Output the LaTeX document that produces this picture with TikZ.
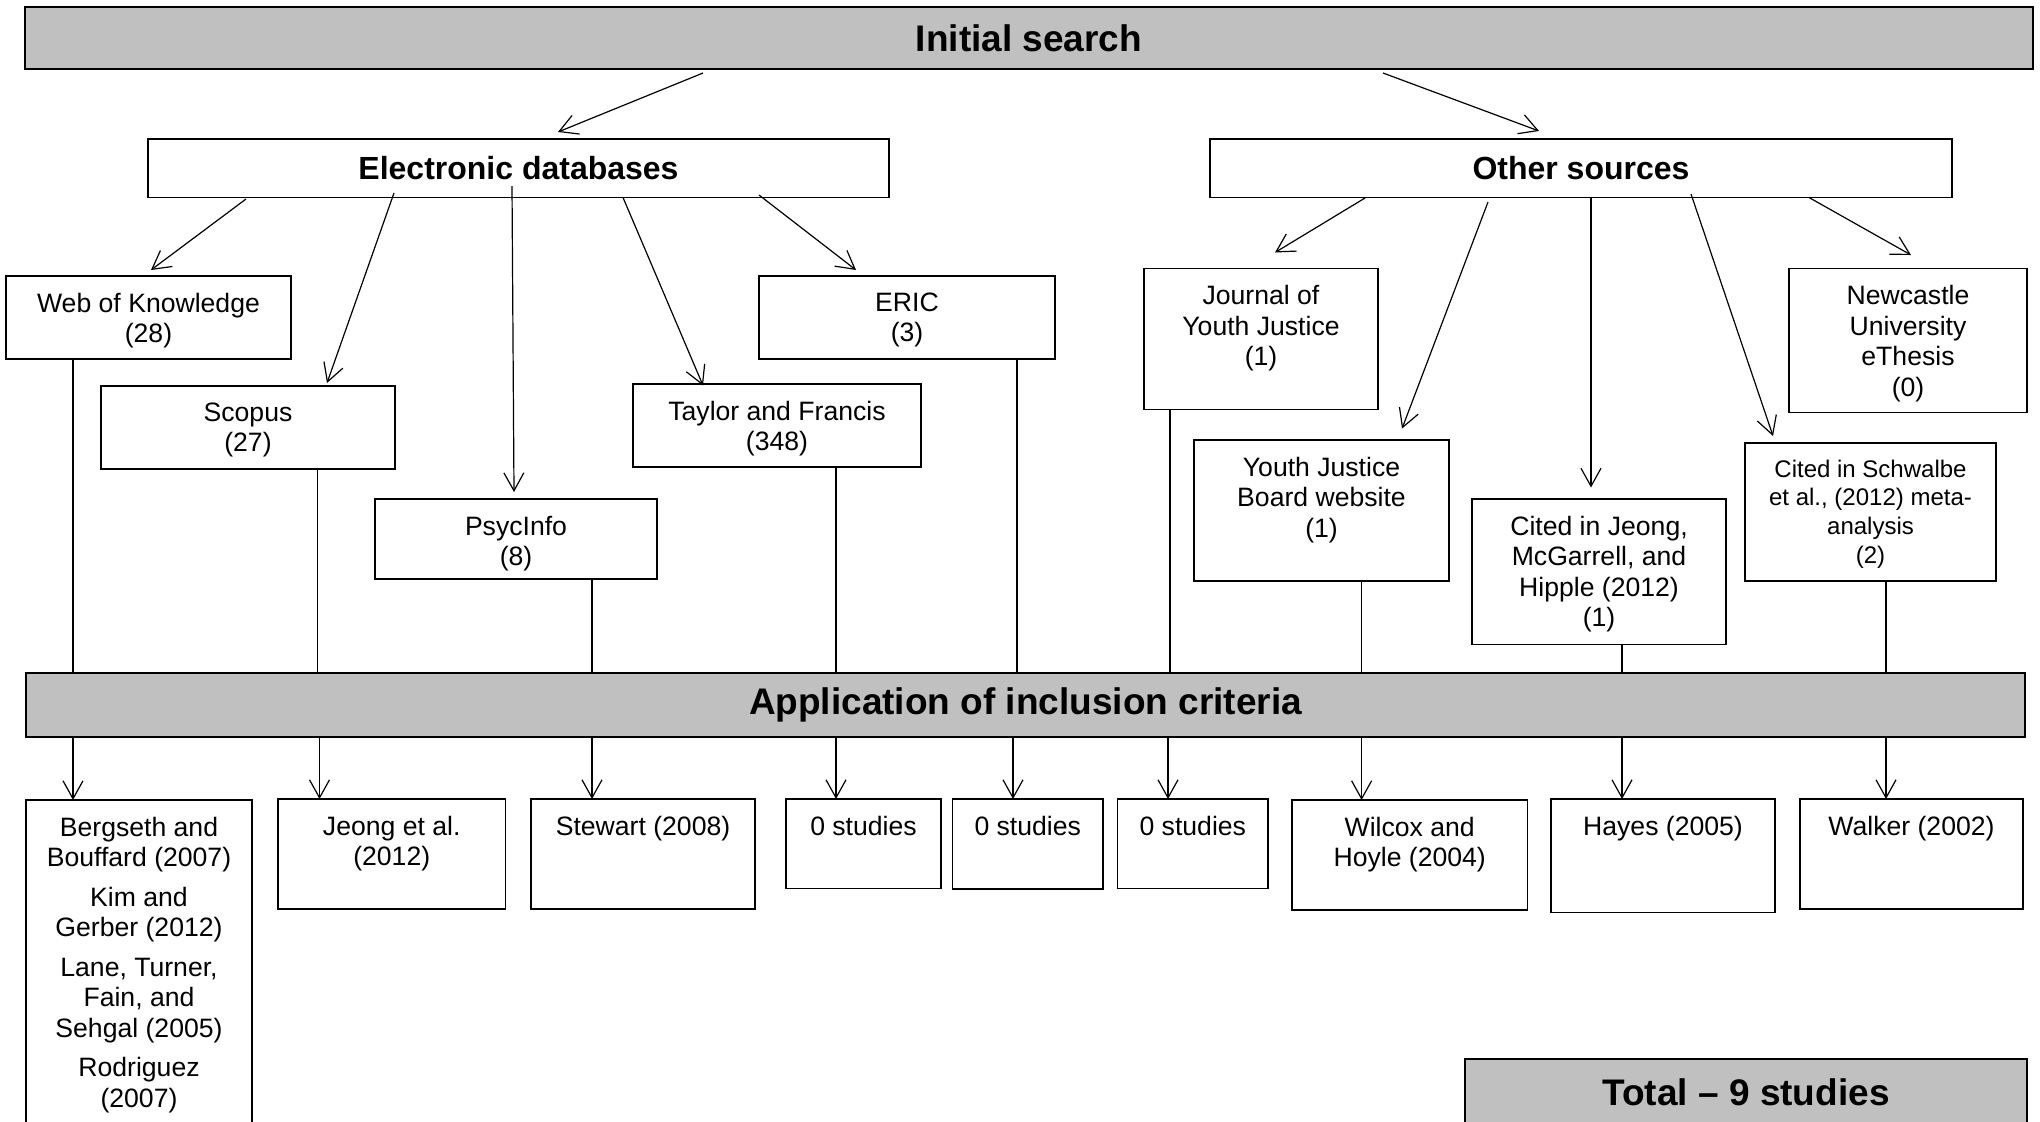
\documentclass[tikz,border=0pt]{standalone}
\usepackage{fontspec}
\setmainfont{Liberation Sans}
\usetikzlibrary{arrows.meta,calc}
\definecolor{hdrgray}{HTML}{C0C0C0}
\tikzset{
  box/.style={draw=black, line width=0.75pt, rectangle, inner sep=0pt, outer sep=0pt, fill=white},
  graybox/.style={draw=black, line width=0.95pt, rectangle, fill=hdrgray, inner sep=0pt, outer sep=0pt},
  txt/.style={align=center, inner sep=0pt, font=\fontsize{13.3}{15.25}\selectfont},
  smalltxt/.style={align=center, inner sep=0pt, font=\fontsize{12}{14.3}\selectfont},
  head/.style={font=\bfseries\fontsize{16}{19}\selectfont},
  bighead/.style={font=\bfseries\fontsize{18.5}{22}\selectfont},
  arr/.style={line width=0.6pt, -{Straight Barb[length=9pt,width=10pt]}},
  conn/.style={line width=0.6pt},
}
% box with text hung from the top: [text style]{name}{x1}{y1}{x2}{y2}{text}
\newcommand\bx[7][txt]{%
  \pgfmathsetmacro\bxw{(#5-#3)*0.5}%
  \pgfmathsetmacro\bxh{(#6-#4)*0.5}%
  \node[box,minimum width=\bxw pt,minimum height=\bxh pt,anchor=north west] (#2) at (#3,#4) {};%
  \node[#1,anchor=north] (#2-t) at ([yshift=-8.2pt]#2.north) {#7};%
}
% box with centred text: [style]{name}{x1}{y1}{x2}{y2}{text}
\newcommand\cbx[7][box,head]{%
  \pgfmathsetmacro\bxw{(#5-#3)*0.5}%
  \pgfmathsetmacro\bxh{(#6-#4)*0.5}%
  \node[#1,minimum width=\bxw pt,minimum height=\bxh pt,anchor=north west] (#2) at (#3,#4) {};%
  \node[#1,draw=none,fill=none,anchor=center] (#2-t) at (#2.center) {#7};%
}
\begin{document}
\begin{tikzpicture}[x=0.5pt,y=-0.5pt]
\useasboundingbox (0,0) rectangle (2040,1121);
\fill[white] (0,0) rectangle (2040,1121);

% headings
\cbx[graybox,bighead]{init}{25}{7}{2033}{68.6}{Initial search}
\cbx[box,head]{ed}{148}{139}{889}{197.5}{Electronic databases}
\cbx[box,head]{os}{1210}{139}{1952}{197.5}{Other sources}
\cbx[graybox,bighead]{app}{26}{673}{2025}{737}{Application of inclusion criteria}
\cbx[graybox,bighead]{tot}{1465}{1059}{2027}{1125}{Total – 9 studies}

% sources
\bx{web}{6}{276}{291}{359}{Web of Knowledge\\(28)}
\bx{scop}{101}{386}{395}{469}{Scopus\\(27)}
\bx{psyc}{375}{499}{657}{579}{PsycInfo\\(8)}
\bx{tf}{633}{384}{921}{467}{Taylor and Francis\\(348)}
\bx{eric}{759}{276}{1055}{359}{ERIC\\(3)}
\bx{jyj}{1144}{268.6}{1378}{409.6}{Journal of\\Youth Justice\\(1)}
\bx{newc}{1789}{268.6}{2027}{412.5}{Newcastle\\University\\eThesis\\(0)}
\bx{yjb}{1194}{440}{1449}{581}{Youth Justice\\Board website\\(1)}
\bx{cj}{1472}{499}{1726}{644.6}{Cited in Jeong,\\McGarrell, and\\Hipple (2012)\\(1)}
\bx[smalltxt]{schw}{1745}{443}{1996}{581}{Cited in Schwalbe\\et al., (2012) meta-\\analysis\\(2)}

% results
\bx{r1}{26}{800}{252}{1135}{Bergseth and\\Bouffard (2007)\\[4.5pt]Kim and\\Gerber (2012)\\[4.5pt]Lane, Turner,\\Fain, and\\Sehgal (2005)\\[4.5pt]Rodriguez\\(2007)}
\bx{r2}{278}{799}{505.5}{909}{Jeong et al.\\(2012)}
\bx{r3}{531}{799}{755}{909}{Stewart (2008)}
\bx{r4}{786}{799}{941}{888.6}{0 studies}
\bx{r5}{952.5}{799}{1103}{889}{0 studies}
\bx{r6}{1117.6}{799}{1268}{888.6}{0 studies}
\bx{r7}{1292}{800}{1527.5}{910}{Wilcox and\\Hoyle (2004)}
\bx{r8}{1551}{799}{1775}{912.5}{Hayes (2005)}
\bx{r9}{1800}{799}{2023}{909}{Walker (2002)}

% arrows from initial search
\coordinate (i1s) at (703,73);   \coordinate (i1e) at (558,132);
\coordinate (i2s) at (1383,73);  \coordinate (i2e) at (1539,131);
\draw[arr] (i1s) -- (i1e);
\draw[arr] (i2s) -- (i2e);

% arrows from electronic databases
\coordinate (e1s) at (246,199);   \coordinate (e1e) at (151,270);
\coordinate (e2s) at (394,193);   \coordinate (e2e) at (327,383);
\coordinate (e3s) at (512,186);   \coordinate (e3e) at (514,492);
\coordinate (e4s) at (623,197.5); \coordinate (e4e) at (703,385.5);
\coordinate (e5s) at (759,195);   \coordinate (e5e) at (856,270);
\foreach \i in {1,...,5}{\draw[arr] (e\i s) -- (e\i e);}

% arrows from other sources
\coordinate (o1s) at (1365,198);   \coordinate (o1e) at (1275,252.5);
\coordinate (o2s) at (1488,202);   \coordinate (o2e) at (1402,428.6);
\coordinate (o3s) at (1591,198);   \coordinate (o3e) at (1591,487.5);
\coordinate (o4s) at (1691,194);   \coordinate (o4e) at (1773,436);
\coordinate (o5s) at (1809,197.5); \coordinate (o5e) at (1911,255);
\foreach \i in {1,...,5}{\draw[arr] (o\i s) -- (o\i e);}

% columns down through the inclusion criteria
\coordinate (ka1) at (73,0);     \coordinate (kb1) at (73,0);
\coordinate (ka2) at (317.5,0);  \coordinate (kb2) at (319.5,0);
\coordinate (ka3) at (592,0);    \coordinate (kb3) at (592,0);
\coordinate (ka4) at (836,0);    \coordinate (kb4) at (836,0);
\coordinate (ka5) at (1017,0);   \coordinate (kb5) at (1013,0);
\coordinate (ka6) at (1170,0);   \coordinate (kb6) at (1168,0);
\coordinate (ka7) at (1361.6,0); \coordinate (kb7) at (1361.6,0);
\coordinate (ka8) at (1622,0);   \coordinate (kb8) at (1622,0);
\coordinate (ka9) at (1886,0);   \coordinate (kb9) at (1886,0);
\foreach \src/\dst/\k in {web/r1/1, scop/r2/2, psyc/r3/3, tf/r4/4, eric/r5/5, jyj/r6/6, yjb/r7/7, cj/r8/8, schw/r9/9}{
  \draw[conn] (\src.south -| ka\k) -- (app.north -| ka\k);
  \draw[arr] (app.south -| kb\k) -- (\dst.north -| kb\k);
}
\end{tikzpicture}
\end{document}
